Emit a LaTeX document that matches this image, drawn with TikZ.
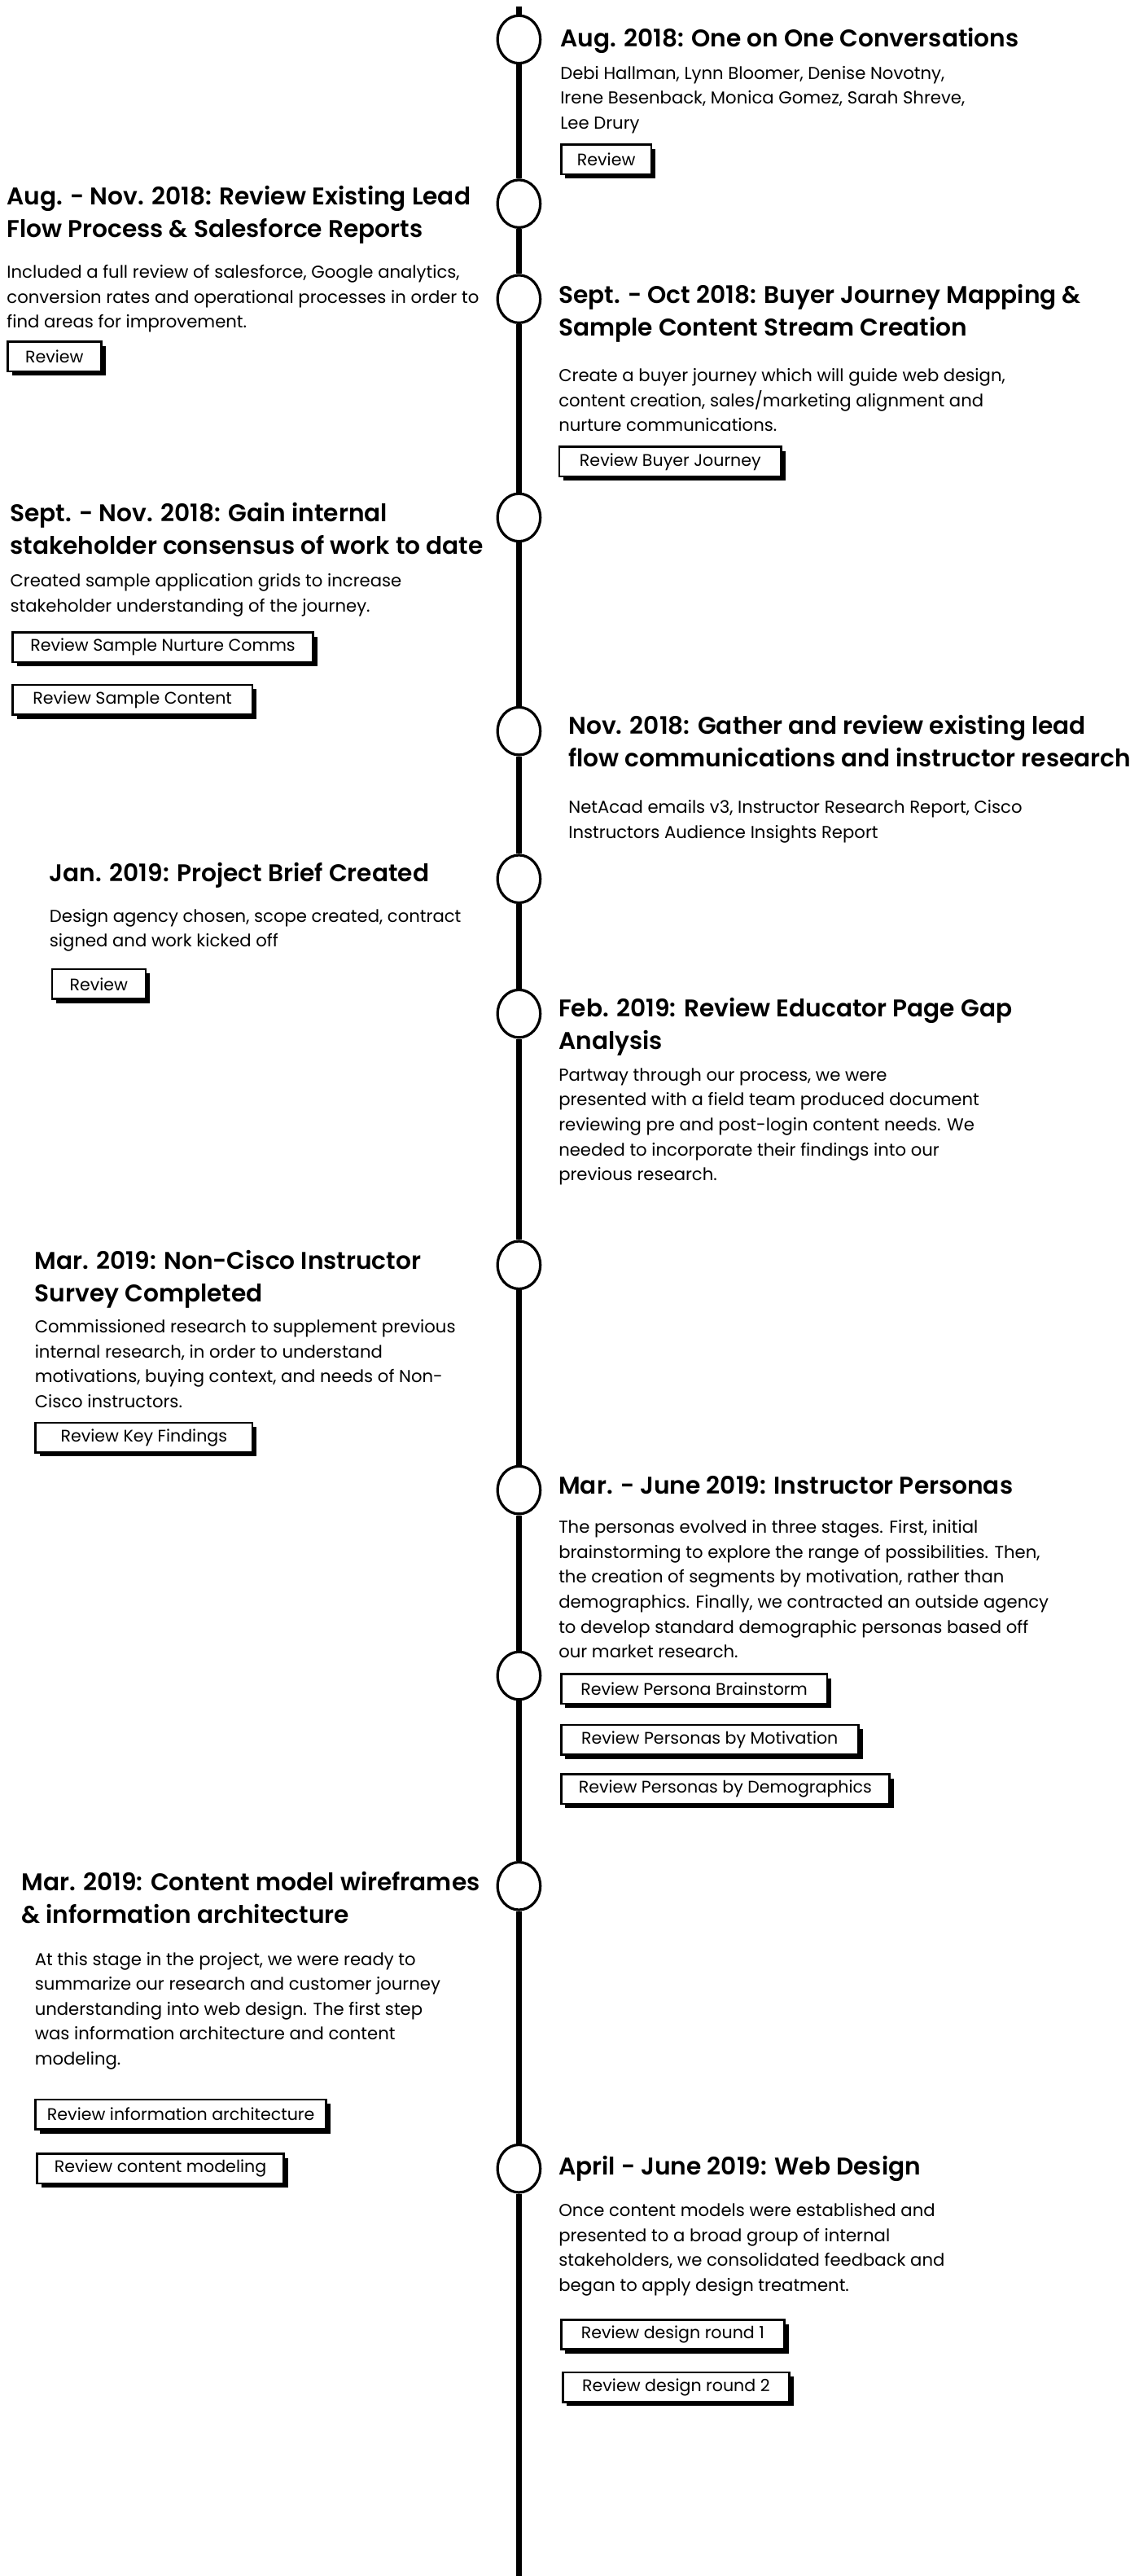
\documentclass[tikz,border=0pt]{standalone}
\usepackage{fontspec}
\setmainfont{Poppins}[BoldFont={Poppins SemiBold}]
\usetikzlibrary{shapes.geometric,shadows}
\begin{document}
\begin{tikzpicture}[x=1pt,y=-1pt,
 ttl/.style={anchor=north west, inner sep=0pt, align=left, font=\fontsize{14.7}{19.8}\selectfont\bfseries},
 txt/.style={anchor=north west, inner sep=0pt, align=left, font=\fontsize{10.5}{15.2}\selectfont},
 btn/.style={draw, line width=1.3pt, fill=white, anchor=west, minimum height=18pt, minimum width=#1, inner xsep=0pt, inner ysep=0pt, font=\fontsize{10.2}{12}\selectfont, general shadow={fill=black, shadow xshift=2.6pt, shadow yshift=-2.6pt}},
 dot/.style={ellipse, draw, line width=1.6pt, fill=white, minimum width=26pt, minimum height=29pt, inner sep=0pt},
 tl/.style={line width=3.5pt}
]
\useasboundingbox (0,0) rectangle (688,1568);
\fill[white] (0,0) rectangle (688,1568);

% timeline circles
\coordinate (top) at (316,4);
\coordinate (bot) at (316,1570);
\node[dot] (c1) at (316,24) {};
\node[dot] (c2) at (316,124) {};
\node[dot] (c3) at (316,182) {};
\node[dot] (c4) at (316,315) {};
\node[dot] (c5) at (316,445) {};
\node[dot] (c6) at (316,535) {};
\node[dot] (c7) at (316,617) {};
\node[dot] (c8) at (316,770) {};
\node[dot] (c9) at (316,907) {};
\node[dot] (c10) at (316,1020) {};
\node[dot] (c11) at (316,1148) {};
\node[dot] (c12) at (316,1320) {};
\draw[tl] (top) -- (c1.north);
\draw[tl] (c1) -- (c2);
\draw[tl] (c2) -- (c3);
\draw[tl] (c3) -- (c4);
\draw[tl] (c4) -- (c5);
\draw[tl] (c5) -- (c6);
\draw[tl] (c6) -- (c7);
\draw[tl] (c7) -- (c8);
\draw[tl] (c8) -- (c9);
\draw[tl] (c9) -- (c10);
\draw[tl] (c10) -- (c11);
\draw[tl] (c11) -- (c12);
\draw[tl] (c12.south) -- (bot);

% 1
\node[ttl] (t1) at (341,17) {Aug. 2018: One on One Conversations};
\node[txt] (b1) at (341,40) {Debi Hallman, Lynn Bloomer, Denise Novotny,\\Irene Besenback, Monica Gomez, Sarah Shreve,\\Lee Drury};
\node[btn=55pt] (r1) at (341,97) {Review};

% 2
\node[ttl] (t2) at (4,113) {Aug. - Nov. 2018: Review Existing Lead\\Flow Process \& Salesforce Reports};
\node[txt] (b2) at (4,161) {Included a full review of salesforce, Google analytics,\\conversion rates and operational processes in order to\\find areas for improvement.};
\node[btn=57pt] (r2) at (4,217) {Review};

% 3
\node[ttl] (t3) at (340,173) {Sept. - Oct 2018: Buyer Journey Mapping \&\\Sample Content Stream Creation};
\node[txt] (b3) at (340,224) {Create a buyer journey which will guide web design,\\content creation, sales/marketing alignment and\\nurture communications.};
\node[btn=135pt] (r3) at (340,281) {Review Buyer Journey};

% 4
\node[ttl] (t4) at (6,306) {Sept. - Nov. 2018: Gain internal\\stakeholder consensus of work to date};
\node[txt] (b4) at (6,349) {Created sample application grids to increase\\stakeholder understanding of the journey.};
\node[btn=183pt] (r4a) at (7,394) {Review Sample Nurture Comms};
\node[btn=146pt] (r4b) at (7,426) {Review Sample Content};

% 5
\node[ttl] (t5) at (346,435) {Nov. 2018: Gather and review existing lead\\flow communications and instructor research};
\node[txt] (b5) at (346,487) {NetAcad emails v3, Instructor Research Report, Cisco\\Instructors Audience Insights Report};

% 6
\node[ttl] (t6) at (30,525) {Jan. 2019: Project Brief Created};
\node[txt] (b6) at (30,553) {Design agency chosen, scope created, contract\\signed and work kicked off};
\node[btn=57pt] (r6) at (31,599) {Review};

% 7
\node[ttl] (t7) at (340,607) {Feb. 2019: Review Educator Page Gap\\Analysis};
\node[txt] (b7) at (340,650) {Partway through our process, we were\\presented with a field team produced document\\reviewing pre and post-login content needs. We\\needed to incorporate their findings into our\\previous research.};

% 8
\node[ttl] (t8) at (21,761) {Mar. 2019: Non-Cisco Instructor\\Survey Completed};
\node[txt] (b8) at (21,803) {Commissioned research to supplement previous\\internal research, in order to understand\\motivations, buying context, and needs of Non-\\Cisco instructors.};
\node[btn=132pt] (r8) at (21,875) {Review Key Findings};

% 9
\node[ttl] (t9) at (340,898) {Mar. - June 2019: Instructor Personas};
\node[txt] (b9) at (340,925) {The personas evolved in three stages. First, initial\\brainstorming to explore the range of possibilities. Then,\\the creation of segments by motivation, rather than\\demographics. Finally, we contracted an outside agency\\to develop standard demographic personas based off\\our market research.};
\node[btn=162pt] (r9a) at (341,1028) {Review Persona Brainstorm};
\node[btn=181pt] (r9b) at (341,1059) {Review Personas by Motivation};
\node[btn=200pt] (r9c) at (341,1089) {Review Personas by Demographics};

% 11
\node[ttl] (t11) at (13,1139) {Mar. 2019: Content model wireframes\\\& information architecture};
\node[txt] (b11) at (21,1188) {At this stage in the project, we were ready to\\summarize our research and customer journey\\understanding into web design. The first step\\was information architecture and content\\modeling.};
\node[btn=177pt] (r11a) at (21,1287) {Review information architecture};
\node[btn=150pt] (r11b) at (22,1320) {Review content modeling};

% 12
\node[ttl] (t12) at (340,1312) {April - June 2019: Web Design};
\node[txt] (b12) at (340,1341) {Once content models were established and\\presented to a broad group of internal\\stakeholders, we consolidated feedback and\\began to apply design treatment.};
\node[btn=136pt] (r12a) at (341,1421) {Review design round 1};
\node[btn=138pt] (r12b) at (342,1453) {Review design round 2};
\end{tikzpicture}
\end{document}
